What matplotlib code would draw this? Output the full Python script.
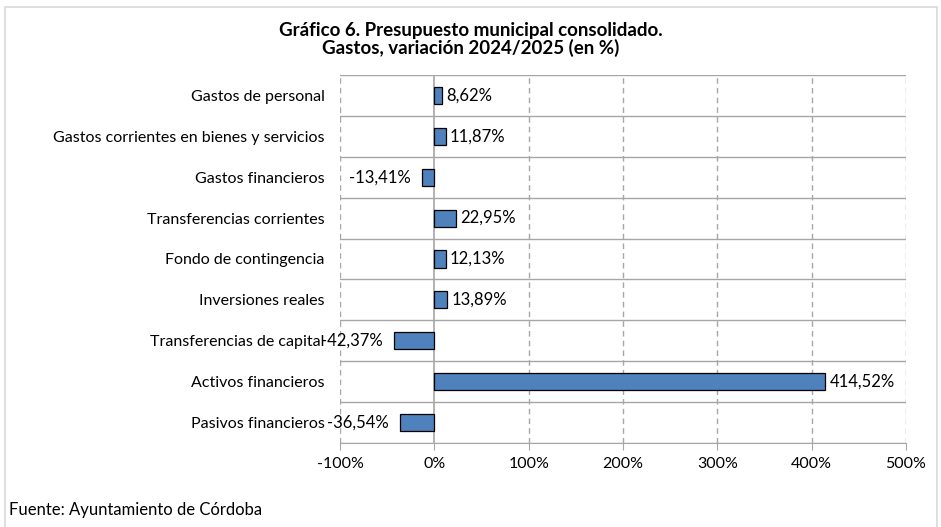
import numpy as np
import matplotlib.pyplot as plt
from matplotlib.patches import Rectangle
from matplotlib.ticker import FuncFormatter

categorias = ['Gastos de personal', 'Gastos corrientes en bienes y servicios',
              'Gastos financieros', 'Transferencias corrientes',
              'Fondo de contingencia', 'Inversiones reales',
              'Transferencias de capital', 'Activos financieros',
              'Pasivos financieros']
variacion = [8.62, 11.87, -13.41, 22.95, 12.13, 13.89, -42.37, 414.52, -36.54]
xticks = [-100, 0, 100, 200, 300, 400, 500]

plt.rcParams['font.family'] = ['Lato', 'DejaVu Sans']

fig = plt.figure(figsize=(9.41, 5.27), dpi=100)
ax = fig.add_axes([0.3613, 0.1594, 0.6015, 0.6983])

n = len(categorias)
y = np.arange(n)
ax.barh(y, variacion, height=0.42, color='#4F81BD', edgecolor='black', linewidth=0.9, zorder=3)

ax.set_xlim(-100, 500)
ax.set_ylim(n - 0.5, -0.5)

# category separators (solid) and value gridlines (dashed)
for k in range(n + 1):
    ax.axhline(k - 0.5, color='#a6a6a6', lw=1.0, zorder=1)
for xv in xticks:
    if xv == 0:
        ax.axvline(0, color='#a6a6a6', lw=1.2, zorder=2)
    else:
        ax.axvline(xv, color='#a6a6a6', lw=1.0, ls=(0, (4, 3)), zorder=1)

for s in ax.spines.values():
    s.set_visible(False)
ax.spines['bottom'].set_visible(True)
ax.spines['bottom'].set_color('#a6a6a6')

ax.set_xticks(xticks)
ax.xaxis.set_major_formatter(FuncFormatter(lambda v, p: f'{v:.0f}%'))
ax.tick_params(axis='x', length=5, color='#a6a6a6', labelsize=11.5, pad=5)
ax.set_yticks(y)
ax.set_yticklabels(categorias, fontsize=11.5)
ax.tick_params(axis='y', length=0, pad=11)

for yi, v in zip(y, variacion):
    txt = f'{v:.2f}%'.replace('.', ',')
    if v >= 0:
        ax.annotate(txt, (v, yi), xytext=(3, 0), textcoords='offset points',
                    ha='left', va='center', fontsize=12)
    else:
        ax.annotate(txt, (v, yi), xytext=(-8, 0), textcoords='offset points',
                    ha='right', va='center', fontsize=12)

fig.text(0.5, 0.942, 'Gráfico 6. Presupuesto municipal consolidado.', ha='center', va='center',
         fontsize=13.5, fontweight='bold')
fig.text(0.5, 0.909, 'Gastos, variación 2024/2025 (en %)', ha='center', va='center',
         fontsize=13.5, fontweight='bold')
fig.text(0.0095, 0.032, 'Fuente: Ayuntamiento de Córdoba', ha='left', va='center', fontsize=12)

fig.patches.append(Rectangle((0.005, -0.05), 0.991, 1.037, transform=fig.transFigure,
                             fill=False, edgecolor='#d9d9d9', lw=1.2))

fig.savefig('out.png', dpi=100)
